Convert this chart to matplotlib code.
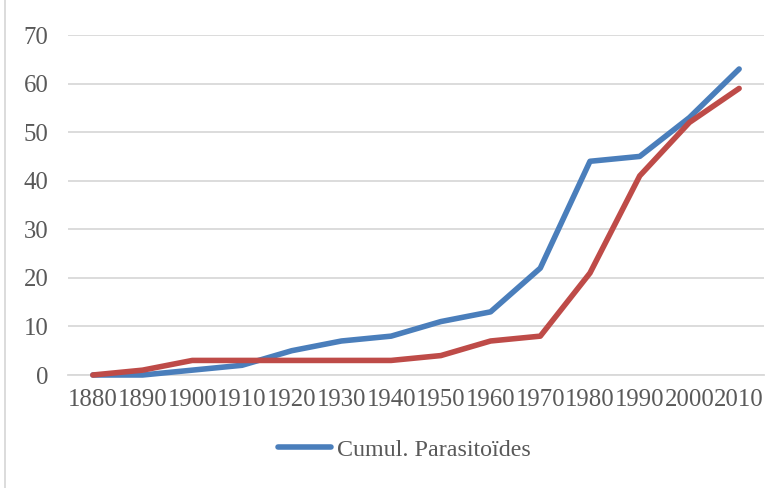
import matplotlib
matplotlib.use("Agg")
import matplotlib.pyplot as plt
from matplotlib.lines import Line2D

# data
years = ["1880", "1890", "1900", "1910", "1920", "1930", "1940",
         "1950", "1960", "1970", "1980", "1990", "2000", "2010"]
parasitoides = [0, 0, 1, 2, 5, 7, 8, 11, 13, 22, 44, 45, 53, 63]
second_series = [0, 1, 3, 3, 3, 3, 3, 4, 7, 8, 21, 41, 52, 59]
y_ticks = [0, 10, 20, 30, 40, 50, 60, 70]

plt.rcParams["font.family"] = ["Liberation Serif", "DejaVu Serif"]

fig = plt.figure(figsize=(7.79, 4.88), dpi=100)
ax = fig.add_axes([68 / 779, 1 - 375 / 488, (764 - 68) / 779, 340 / 488])

x = list(range(len(years)))
ax.plot(x, parasitoides, color="#4A7EBB", lw=4.0, solid_capstyle="round",
        solid_joinstyle="round", clip_on=False, zorder=3)
ax.plot(x, second_series, color="#BE4B48", lw=4.0, solid_capstyle="round",
        solid_joinstyle="round", clip_on=False, zorder=3)

ax.set_xlim(-0.5, len(years) - 0.5)
ax.set_ylim(0, 70)
ax.set_yticks(y_ticks)
ax.set_xticks(x)
ax.set_xticklabels(years)
ax.yaxis.grid(True, color="#D9D9D9", lw=1.3)
ax.set_axisbelow(True)
for s in ["top", "right", "left"]:
    ax.spines[s].set_visible(False)
ax.spines["bottom"].set_color("#D9D9D9")
ax.spines["bottom"].set_linewidth(1.3)
ax.tick_params(axis="both", length=0, labelsize=17.8, labelcolor="#595959")
ax.tick_params(axis="y", pad=14)
ax.tick_params(axis="x", pad=10)

handle = Line2D([], [], color="#4A7EBB", lw=4.0, solid_capstyle="round")
fig.legend([handle], ["Cumul. Parasitoïdes"], loc="center",
           bbox_to_anchor=(0.519, 0.078), frameon=False, fontsize=17.3,
           handlelength=2.2, handletextpad=0.25, labelcolor="#595959")

# chart area border (left edge visible in the reference)
fig.add_artist(Line2D([5 / 779, 5 / 779], [0, 1], color="#D9D9D9", lw=1.3))

fig.savefig("out.png", dpi=100)
